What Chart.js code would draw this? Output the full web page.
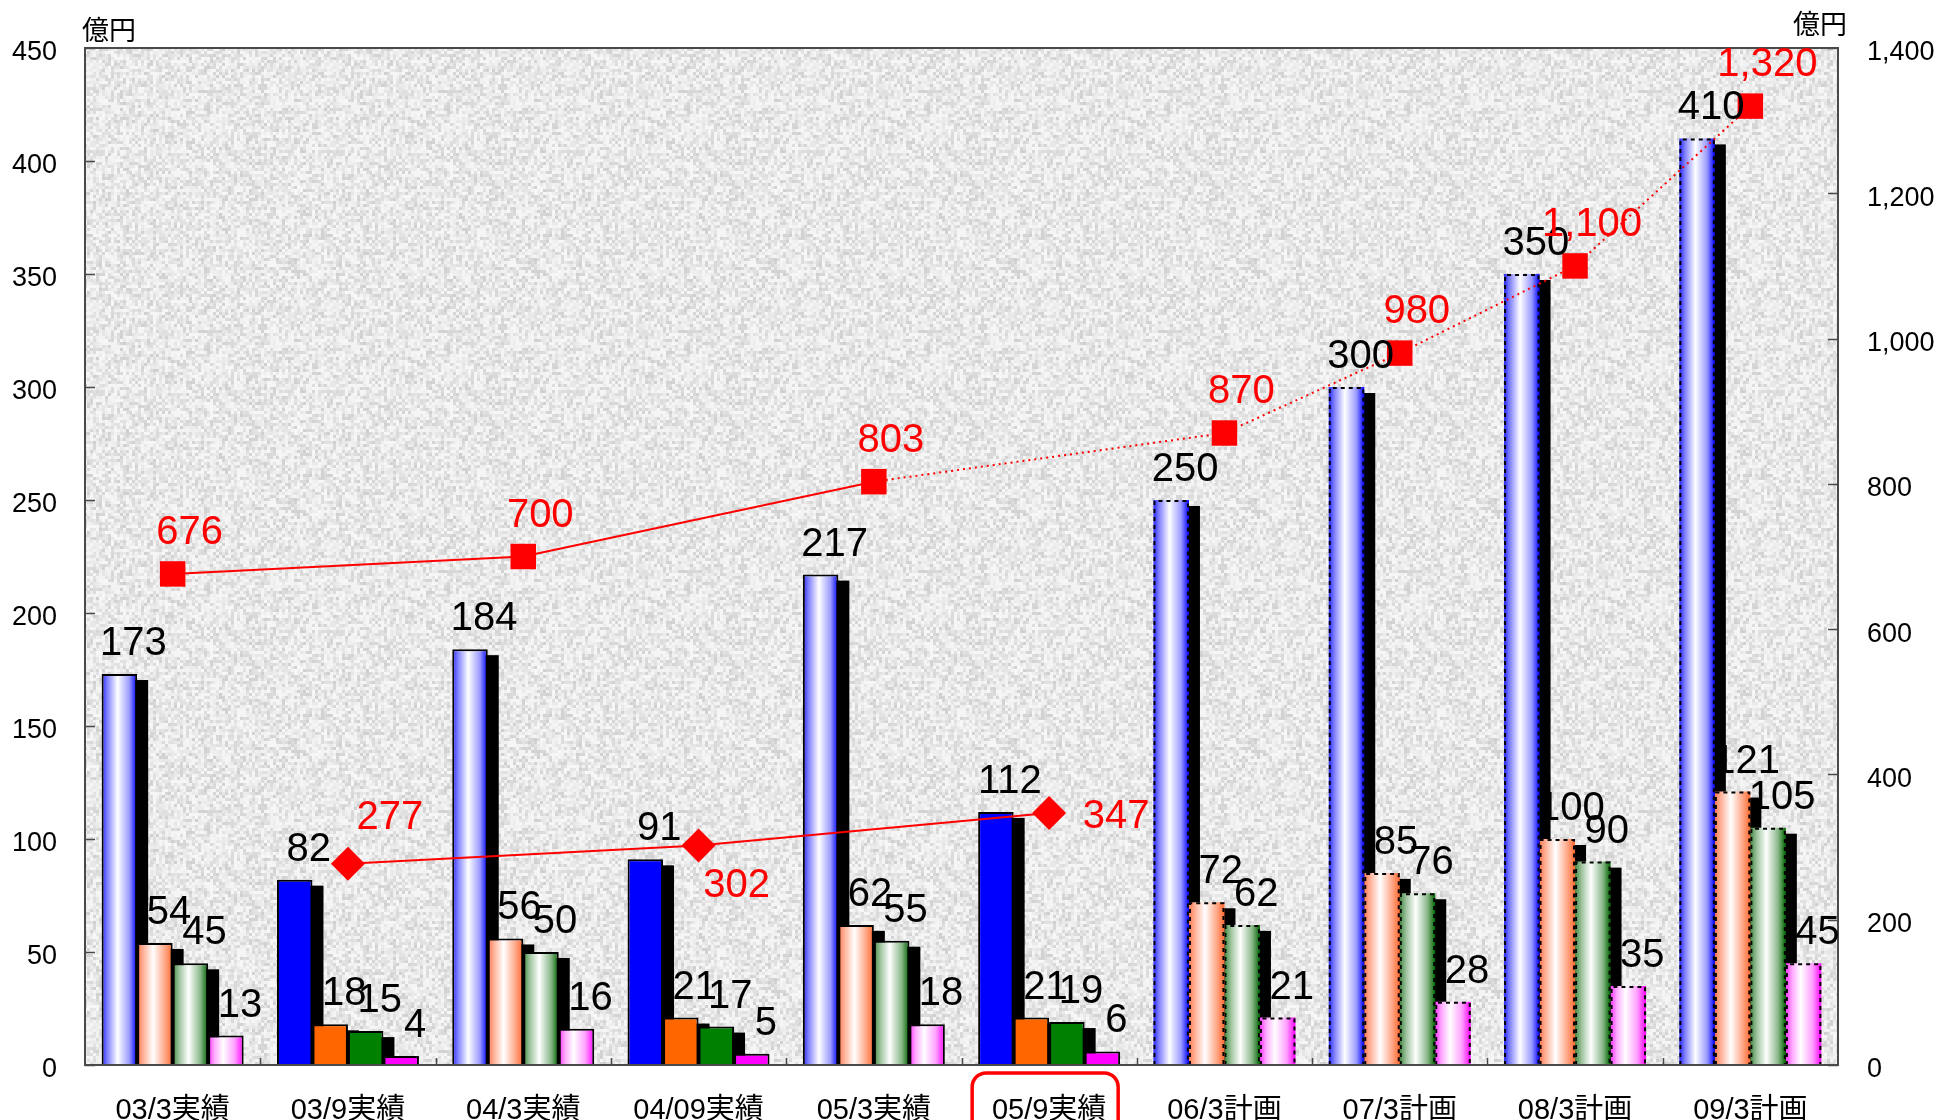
<!DOCTYPE html>
<html>
<head>
<meta charset="utf-8">
<script src="https://cdn.jsdelivr.net/npm/chart.js@4.4.1/dist/chart.umd.min.js"></script>
<style>
  html, body { margin: 0; padding: 0; background: #fff; }
  #wrap { width: 1937px; height: 1120px; }
</style>
</head>
<body>
<div id="wrap"><canvas id="profitChart" width="1937" height="1120"></canvas></div>
<script>
const categories = ['03/3実績', '03/9実績', '04/3実績', '04/09実績', '05/3実績', '05/9実績', '06/3計画', '07/3計画', '08/3計画', '09/3計画'];
const blueValues = [173, 82, 184, 91, 217, 112, 250, 300, 350, 410];
const orangeValues = [54, 18, 56, 21, 62, 21, 72, 85, 100, 121];
const greenValues = [45, 15, 50, 17, 55, 19, 62, 76, 90, 105];
const pinkValues = [13, 4, 16, 5, 18, 6, 21, 28, 35, 45];
const annualTotals = [676, null, 700, null, 803, null, 870, 980, 1100, 1320];
const halfTotals = [null, 277, null, 302, null, 347, null, null, null, null];
const leftTicks = [0, 50, 100, 150, 200, 250, 300, 350, 400, 450];
const rightTicks = [0, 200, 400, 600, 800, 1000, 1200, 1400];
const unitLabel = '億円';
const highlightIndex = 5;

const FONT = '"Liberation Sans", Arial, "Noto Sans CJK JP", sans-serif';
const CJK_FONT = '"Noto Sans CJK JP", "Liberation Sans", sans-serif';
const CAT_PCT = 0.81;

const solidColors = ['#0000ff', '#ff6600', '#008000', '#ff00ff'];
const gradStops = [
    [[0, '#2424ff'], [0.15, '#7c7cff'], [0.45, '#ffffff'], [0.78, '#9a9aff'], [1, '#0000ff']],
    [[0, '#ff7a50'], [0.18, '#ffb39a'], [0.45, '#ffffff'], [0.78, '#ffa888'], [1, '#ff6a30']],
    [[0, '#3f873f'], [0.18, '#9cc39c'], [0.45, '#ffffff'], [0.78, '#8ab88a'], [1, '#006400']],
    [[0, '#ff33ff'], [0.18, '#ffaaff'], [0.42, '#ffffff'], [0.75, '#ffa0ff'], [1, '#ff00ff']]
];

const isPlan = i => categories[i].endsWith('計画');
const isHalf = i => /\/0?9/.test(categories[i]);

function barFill(ctx) {
    const s = ctx.datasetIndex;
    const i = ctx.dataIndex;
    if (i === undefined || isHalf(i)) return solidColors[s];
    const chart = ctx.chart;
    const xs = chart.scales.x;
    if (!xs || !chart.chartArea) return solidColors[s];
    const barW = xs.width / categories.length * CAT_PCT / 4;
    const left = xs.getPixelForValue(i) + (s - 2) * barW;
    const g = chart.ctx.createLinearGradient(left, 0, left + barW, 0);
    gradStops[s].forEach(([o, c]) => g.addColorStop(o, c));
    return g;
}

function barBorder(ctx) {
    const i = ctx.dataIndex;
    if (i !== undefined && isPlan(i)) return gradStops[ctx.datasetIndex][0][1];
    return '#000';
}

// granite-like background for the plot area
function makeTexture() {
    const c = document.createElement('canvas');
    c.width = 240;
    c.height = 240;
    const g = c.getContext('2d');
    const cell = 3;
    for (let y = 0; y < 240; y += cell) {
        for (let x = 0; x < 240; x += cell) {
            let h = Math.imul(x * 73856093 ^ y * 19349663, 0x5bd1e995);
            h ^= h >>> 13;
            h = Math.imul(h, 0x27d4eb2d);
            h ^= h >>> 15;
            const v = (h >>> 0) / 4294967296;
            const gray = Math.round(247 - 40 * Math.pow(v, 1.6));
            g.fillStyle = `rgb(${gray},${gray},${gray})`;
            g.fillRect(x, y, cell, cell);
        }
    }
    return c;
}
const texture = makeTexture();

const decorPlugin = {
    id: 'decor',
    beforeDatasetsDraw(chart) {
        const { ctx, chartArea } = chart;
        ctx.save();
        ctx.fillStyle = ctx.createPattern(texture, 'repeat');
        ctx.fillRect(chartArea.left, chartArea.top, chartArea.right - chartArea.left, chartArea.bottom - chartArea.top);
        // shadows behind the first three bar series
        ctx.fillStyle = '#000';
        for (let s = 0; s < 3; s++) {
            chart.getDatasetMeta(s).data.forEach(bar => {
                const { x, y, base, width } = bar.getProps(['x', 'y', 'base', 'width'], true);
                ctx.fillRect(x - width / 2 + 11, y + 6, width, base - y - 6);
            });
        }
        ctx.restore();
    },
    afterDatasetDraw(chart, args) {
        const s = args.index;
        if (s > 3) return;
        const { ctx } = chart;
        ctx.save();
        ctx.strokeStyle = '#000';
        ctx.lineWidth = 2;
        ctx.setLineDash([4, 4]);
        args.meta.data.forEach((bar, i) => {
            if (!isPlan(i)) return;
            const { x, y, base, width } = bar.getProps(['x', 'y', 'base', 'width'], true);
            const l = x - width / 2 + 1;
            const r = x + width / 2 - 1;
            ctx.beginPath();
            ctx.moveTo(l, base);
            ctx.lineTo(l, y + 1);
            ctx.lineTo(r, y + 1);
            ctx.lineTo(r, base);
            ctx.stroke();
        });
        ctx.restore();
    },
    afterDatasetsDraw(chart) {
        const { ctx, chartArea, scales } = chart;
        const { left, right, top, bottom } = chartArea;
        ctx.save();
        // frame and inward tick marks
        ctx.strokeStyle = '#4a4a4a';
        ctx.lineWidth = 2;
        ctx.strokeRect(left, top, right - left, bottom - top);
        ctx.beginPath();
        leftTicks.forEach(v => {
            const y = Math.round(scales.y.getPixelForValue(v)) + 0.5;
            ctx.moveTo(left, y);
            ctx.lineTo(left + 10, y);
        });
        rightTicks.forEach(v => {
            const y = Math.round(scales.y1.getPixelForValue(v)) + 0.5;
            ctx.moveTo(right, y);
            ctx.lineTo(right - 10, y);
        });
        const catW = (right - left) / categories.length;
        for (let i = 1; i < categories.length; i++) {
            const x = Math.round(left + i * catW) + 0.5;
            ctx.moveTo(x, bottom);
            ctx.lineTo(x, bottom - 7);
        }
        ctx.lineWidth = 1.5;
        ctx.stroke();

        // bar value labels
        ctx.font = `40px ${FONT}`;
        ctx.textAlign = 'center';
        ctx.textBaseline = 'alphabetic';
        ctx.fillStyle = '#000';
        for (let s = 0; s < 4; s++) {
            const ds = chart.data.datasets[s];
            chart.getDatasetMeta(s).data.forEach((bar, i) => {
                ctx.fillText(String(ds.data[i]), bar.x + 14, bar.y - 19);
            });
        }

        // line value labels
        ctx.fillStyle = '#ff0000';
        chart.getDatasetMeta(4).data.forEach((pt, i) => {
            if (annualTotals[i] === null) return;
            ctx.fillText(annualTotals[i].toLocaleString('en-US'), pt.x + 17, pt.y - 30);
        });
        const halfOffsets = [[42, -46], [38, 40], [67, 4]];
        ctx.textBaseline = 'middle';
        let k = 0;
        chart.getDatasetMeta(5).data.forEach((pt, i) => {
            if (halfTotals[i] === null) return;
            const [dx, dy] = halfOffsets[k++];
            ctx.fillText(String(halfTotals[i]), pt.x + dx, pt.y + dy);
        });

        // units
        ctx.fillStyle = '#000';
        ctx.font = `27px ${CJK_FONT}`;
        ctx.textAlign = 'left';
        ctx.fillText(unitLabel, 82, 30);
        ctx.fillText(unitLabel, 1793, 24);

        // highlight box around the latest actual
        const cx = scales.x.getPixelForValue(highlightIndex) - 4;
        ctx.strokeStyle = '#ff0000';
        ctx.lineWidth = 3.5;
        ctx.setLineDash([]);
        ctx.beginPath();
        ctx.roundRect(cx - 73, bottom + 8, 146, 70, 14);
        ctx.stroke();
        ctx.restore();
    }
};

const barDataset = (label, data) => ({
    type: 'bar',
    label,
    data,
    yAxisID: 'y',
    order: 2,
    backgroundColor: barFill,
    borderColor: barBorder,
    borderWidth: ctx => (ctx.dataIndex !== undefined && isPlan(ctx.dataIndex)) ? 0 : 2,
    borderSkipped: 'bottom',
    categoryPercentage: CAT_PCT,
    barPercentage: 1
});

const ctx = document.getElementById('profitChart').getContext('2d');
new Chart(ctx, {
    data: {
        labels: categories,
        datasets: [
            barDataset('blue', blueValues),
            barDataset('orange', orangeValues),
            barDataset('green', greenValues),
            barDataset('pink', pinkValues),
            {
                type: 'line',
                label: 'annual',
                data: annualTotals,
                yAxisID: 'y1',
                order: 1,
                spanGaps: true,
                borderColor: '#ff0000',
                borderWidth: 2,
                pointStyle: 'rect',
                pointRadius: 18,
                pointBackgroundColor: '#ff0000',
                pointBorderWidth: 0,
                segment: {
                    borderDash: c => isPlan(c.p1DataIndex) ? [2, 4] : undefined
                }
            },
            {
                type: 'line',
                label: 'half',
                data: halfTotals,
                yAxisID: 'y1',
                order: 1,
                spanGaps: true,
                borderColor: '#ff0000',
                borderWidth: 2,
                pointStyle: 'rectRot',
                pointRadius: 17,
                pointBackgroundColor: '#ff0000',
                pointBorderWidth: 0
            }
        ]
    },
    options: {
        responsive: false,
        animation: false,
        layout: { padding: { top: 48 } },
        plugins: {
            legend: { display: false },
            tooltip: { enabled: false }
        },
        scales: {
            x: {
                grid: { display: false },
                border: { display: false },
                ticks: {
                    font: { size: 29, family: FONT },
                    color: '#000',
                    padding: 21,
                    maxRotation: 0,
                    autoSkip: false
                },
                afterFit: s => { s.height = 55; }
            },
            y: {
                position: 'left',
                min: 0,
                max: 450,
                grid: { display: false },
                border: { display: false },
                afterBuildTicks: s => { s.ticks = leftTicks.map(v => ({ value: v })); },
                ticks: {
                    font: { size: 27, family: FONT },
                    color: '#000',
                    padding: 20,
                    labelOffset: 5
                },
                afterFit: s => { s.width = 85; }
            },
            y1: {
                position: 'right',
                min: 0,
                max: 1400,
                grid: { display: false },
                border: { display: false },
                afterBuildTicks: s => { s.ticks = rightTicks.map(v => ({ value: v })); },
                ticks: {
                    font: { size: 27, family: FONT },
                    color: '#000',
                    padding: 21,
                    labelOffset: 5,
                    callback: v => v.toLocaleString('en-US')
                },
                afterFit: s => { s.width = 99; }
            }
        }
    },
    plugins: [decorPlugin]
});
</script>
</body>
</html>
